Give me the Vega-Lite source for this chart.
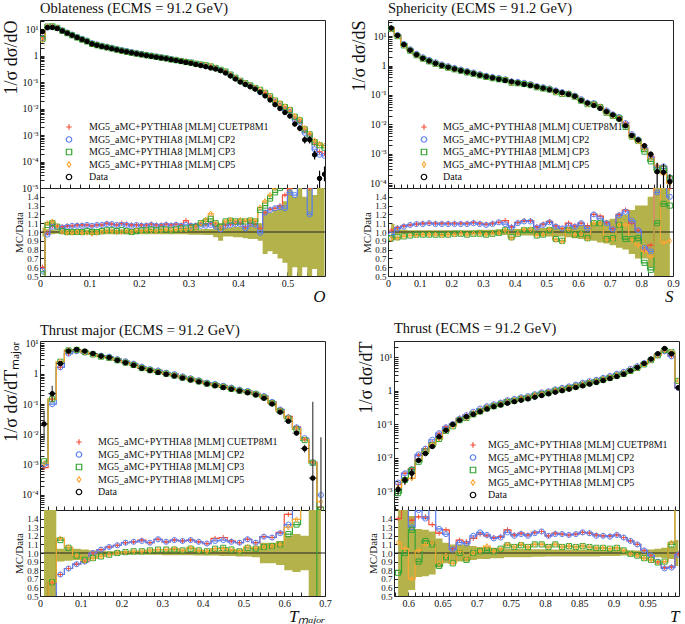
{
"padding":{"left":2,"top":0,"right":2,"bottom":0},
"datasets":{
"obl":[
{"x":0.005,"d":8,"a":4.8,"b":4.5,"c":4.2,"f":3.8,"ra":0.6,"rb":0.56,"rc":0.52,"rf":0.47,"lo":0.95,"hi":1.05},
{"x":0.015,"d":11.5,"a":11.4,"b":11.2,"c":12.4,"f":12.7,"ra":0.99,"rb":0.97,"rc":1.08,"rf":1.1,"lo":0.97,"hi":1.03},
{"x":0.025,"d":11.5,"a":12.3,"b":12.2,"c":12.7,"f":12.9,"ra":1.07,"rb":1.06,"rc":1.1,"rf":1.12,"lo":0.975,"hi":1.025},
{"x":0.035,"d":10.5,"a":11.1,"b":11.1,"c":11.1,"f":11.2,"ra":1.06,"rb":1.06,"rc":1.06,"rf":1.07,"lo":0.98,"hi":1.02},
{"x":0.045,"d":8.5,"a":9.0,"b":8.9,"c":8.6,"f":8.5,"ra":1.06,"rb":1.05,"rc":1.01,"rf":1.0,"lo":0.98,"hi":1.02},
{"x":0.055,"d":7.0,"a":7.5,"b":7.4,"c":7.0,"f":6.9,"ra":1.07,"rb":1.06,"rc":1.0,"rf":0.99,"lo":0.975,"hi":1.025},
{"x":0.065,"d":5.8,"a":6.2,"b":6.2,"c":5.8,"f":5.7,"ra":1.07,"rb":1.07,"rc":1.0,"rf":0.99,"lo":0.975,"hi":1.025},
{"x":0.075,"d":4.8,"a":5.2,"b":5.1,"c":4.8,"f":4.8,"ra":1.08,"rb":1.07,"rc":1.0,"rf":1.0,"lo":0.975,"hi":1.025},
{"x":0.085,"d":4.0,"a":4.3,"b":4.3,"c":4.0,"f":4.0,"ra":1.08,"rb":1.07,"rc":1.0,"rf":0.99,"lo":0.975,"hi":1.025},
{"x":0.095,"d":3.4,"a":3.7,"b":3.7,"c":3.4,"f":3.4,"ra":1.08,"rb":1.08,"rc":1.01,"rf":0.99,"lo":0.975,"hi":1.025},
{"x":0.105,"d":2.75,"a":2.94,"b":2.94,"c":2.75,"f":2.7,"ra":1.07,"rb":1.07,"rc":1.0,"rf":0.98,"lo":0.975,"hi":1.025},
{"x":0.115,"d":2.45,"a":2.65,"b":2.65,"c":2.45,"f":2.43,"ra":1.08,"rb":1.08,"rc":1.0,"rf":0.99,"lo":0.975,"hi":1.025},
{"x":0.125,"d":2.2,"a":2.38,"b":2.38,"c":2.22,"f":2.2,"ra":1.08,"rb":1.08,"rc":1.01,"rf":1.0,"lo":0.975,"hi":1.025},
{"x":0.135,"d":2.0,"a":2.2,"b":2.18,"c":2.04,"f":2.02,"ra":1.1,"rb":1.09,"rc":1.02,"rf":1.01,"lo":0.975,"hi":1.025},
{"x":0.145,"d":1.82,"a":1.98,"b":1.98,"c":1.86,"f":1.84,"ra":1.09,"rb":1.09,"rc":1.02,"rf":1.01,"lo":0.975,"hi":1.025},
{"x":0.155,"d":1.65,"a":1.78,"b":1.78,"c":1.67,"f":1.65,"ra":1.08,"rb":1.08,"rc":1.01,"rf":1.0,"lo":0.975,"hi":1.025},
{"x":0.165,"d":1.5,"a":1.65,"b":1.62,"c":1.53,"f":1.5,"ra":1.1,"rb":1.08,"rc":1.02,"rf":1.0,"lo":0.975,"hi":1.025},
{"x":0.175,"d":1.38,"a":1.5,"b":1.49,"c":1.39,"f":1.39,"ra":1.09,"rb":1.08,"rc":1.01,"rf":1.01,"lo":0.975,"hi":1.025},
{"x":0.185,"d":1.27,"a":1.37,"b":1.36,"c":1.27,"f":1.27,"ra":1.08,"rb":1.07,"rc":1.0,"rf":1.0,"lo":0.975,"hi":1.025},
{"x":0.195,"d":1.17,"a":1.26,"b":1.26,"c":1.18,"f":1.19,"ra":1.08,"rb":1.08,"rc":1.01,"rf":1.02,"lo":0.975,"hi":1.025},
{"x":0.205,"d":1.08,"a":1.17,"b":1.16,"c":1.1,"f":1.09,"ra":1.08,"rb":1.07,"rc":1.02,"rf":1.01,"lo":0.975,"hi":1.025},
{"x":0.215,"d":1.0,"a":1.08,"b":1.07,"c":1.02,"f":1.02,"ra":1.08,"rb":1.07,"rc":1.02,"rf":1.02,"lo":0.975,"hi":1.025},
{"x":0.225,"d":0.93,"a":1.01,"b":1.0,"c":0.96,"f":0.95,"ra":1.09,"rb":1.08,"rc":1.03,"rf":1.02,"lo":0.975,"hi":1.025},
{"x":0.235,"d":0.87,"a":0.94,"b":0.93,"c":0.89,"f":0.88,"ra":1.08,"rb":1.07,"rc":1.02,"rf":1.01,"lo":0.975,"hi":1.025},
{"x":0.245,"d":0.81,"a":0.87,"b":0.87,"c":0.83,"f":0.83,"ra":1.08,"rb":1.07,"rc":1.03,"rf":1.02,"lo":0.975,"hi":1.025},
{"x":0.255,"d":0.76,"a":0.83,"b":0.82,"c":0.78,"f":0.78,"ra":1.09,"rb":1.08,"rc":1.03,"rf":1.03,"lo":0.975,"hi":1.025},
{"x":0.265,"d":0.7,"a":0.76,"b":0.75,"c":0.71,"f":0.71,"ra":1.08,"rb":1.07,"rc":1.02,"rf":1.02,"lo":0.975,"hi":1.025},
{"x":0.275,"d":0.65,"a":0.71,"b":0.7,"c":0.67,"f":0.67,"ra":1.09,"rb":1.08,"rc":1.03,"rf":1.03,"lo":0.975,"hi":1.025},
{"x":0.285,"d":0.6,"a":0.65,"b":0.64,"c":0.62,"f":0.62,"ra":1.08,"rb":1.07,"rc":1.04,"rf":1.03,"lo":0.975,"hi":1.025},
{"x":0.295,"d":0.55,"a":0.62,"b":0.59,"c":0.57,"f":0.57,"ra":1.13,"rb":1.08,"rc":1.04,"rf":1.03,"lo":0.975,"hi":1.025},
{"x":0.305,"d":0.51,"a":0.55,"b":0.55,"c":0.54,"f":0.53,"ra":1.08,"rb":1.07,"rc":1.05,"rf":1.04,"lo":0.97,"hi":1.03},
{"x":0.315,"d":0.46,"a":0.5,"b":0.49,"c":0.49,"f":0.48,"ra":1.08,"rb":1.07,"rc":1.06,"rf":1.05,"lo":0.97,"hi":1.03},
{"x":0.325,"d":0.42,"a":0.46,"b":0.45,"c":0.46,"f":0.46,"ra":1.09,"rb":1.07,"rc":1.1,"rf":1.1,"lo":0.97,"hi":1.03},
{"x":0.335,"d":0.38,"a":0.41,"b":0.41,"c":0.43,"f":0.43,"ra":1.09,"rb":1.07,"rc":1.12,"rf":1.14,"lo":0.965,"hi":1.035},
{"x":0.345,"d":0.34,"a":0.37,"b":0.37,"c":0.39,"f":0.41,"ra":1.1,"rb":1.08,"rc":1.15,"rf":1.21,"lo":0.965,"hi":1.035},
{"x":0.355,"d":0.31,"a":0.33,"b":0.33,"c":0.34,"f":0.34,"ra":1.08,"rb":1.06,"rc":1.1,"rf":1.1,"lo":0.94,"hi":1.06},
{"x":0.365,"d":0.27,"a":0.28,"b":0.28,"c":0.29,"f":0.28,"ra":1.03,"rb":1.03,"rc":1.06,"rf":1.05,"lo":0.9,"hi":1.1},
{"x":0.375,"d":0.22,"a":0.24,"b":0.24,"c":0.25,"f":0.25,"ra":1.08,"rb":1.07,"rc":1.12,"rf":1.12,"lo":0.95,"hi":1.05},
{"x":0.385,"d":0.17,"a":0.185,"b":0.184,"c":0.192,"f":0.194,"ra":1.09,"rb":1.08,"rc":1.13,"rf":1.14,"lo":0.95,"hi":1.05},
{"x":0.395,"d":0.13,"a":0.143,"b":0.142,"c":0.146,"f":0.146,"ra":1.1,"rb":1.09,"rc":1.12,"rf":1.12,"lo":0.94,"hi":1.06},
{"x":0.405,"d":0.1,"a":0.11,"b":0.109,"c":0.112,"f":0.114,"ra":1.1,"rb":1.09,"rc":1.12,"rf":1.14,"lo":0.94,"hi":1.06},
{"x":0.415,"d":0.081,"a":0.086,"b":0.084,"c":0.091,"f":0.092,"ra":1.06,"rb":1.04,"rc":1.12,"rf":1.13,"lo":0.93,"hi":1.07},
{"x":0.425,"d":0.066,"a":0.073,"b":0.072,"c":0.075,"f":0.075,"ra":1.1,"rb":1.09,"rc":1.13,"rf":1.14,"lo":0.92,"hi":1.08},
{"x":0.435,"d":0.054,"a":0.059,"b":0.058,"c":0.06,"f":0.061,"ra":1.09,"rb":1.08,"rc":1.12,"rf":1.13,"lo":0.92,"hi":1.08},
{"x":0.445,"d":0.041,"a":0.043,"b":0.041,"c":0.051,"f":0.052,"ra":1.04,"rb":0.99,"rc":1.25,"rf":1.28,"lo":0.9,"hi":1.1},
{"x":0.455,"d":0.03,"a":0.037,"b":0.037,"c":0.039,"f":0.041,"ra":1.22,"rb":1.22,"rc":1.3,"rf":1.35,"lo":0.75,"hi":1.25},
{"x":0.465,"d":0.021,"a":0.026,"b":0.026,"c":0.029,"f":0.03,"ra":1.26,"rb":1.25,"rc":1.38,"rf":1.42,"lo":0.78,"hi":1.22},
{"x":0.475,"d":0.014,"a":0.018,"b":0.018,"c":0.02,"f":0.021,"ra":1.27,"rb":1.27,"rc":1.45,"rf":1.5,"lo":0.75,"hi":1.25},
{"x":0.485,"d":0.01,"a":0.013,"b":0.0128,"c":0.015,"f":0.016,"ra":1.3,"rb":1.28,"rc":1.5,"rf":1.6,"lo":0.7,"hi":1.3},
{"x":0.495,"d":0.0071,"a":0.0101,"b":0.009,"c":0.0114,"f":0.0121,"ra":1.42,"rb":1.27,"rc":1.6,"rf":1.7,"lo":0.65,"hi":1.35,"el":0.0062,"eh":0.008},
{"x":0.505,"d":0.0052,"a":0.0078,"b":0.0075,"c":0.0088,"f":0.0094,"ra":1.5,"rb":1.45,"rc":1.7,"rf":1.8,"lo":0.5,"hi":1.5,"el":0.0045,"eh":0.006},
{"x":0.515,"d":0.0026,"a":0.0042,"b":0.0037,"c":0.0049,"f":0.0052,"ra":1.6,"rb":1.42,"rc":1.9,"rf":2.0,"lo":0.6,"hi":1.4,"el":0.0021,"eh":0.0032},
{"x":0.525,"d":0.0018,"a":0.0032,"b":0.0029,"c":0.0036,"f":0.004,"ra":1.8,"rb":1.6,"rc":2.0,"rf":2.2,"lo":0.5,"hi":1.5,"el":0.0014,"eh":0.0023},
{"x":0.535,"d":0.00066,"a":0.00145,"b":0.0012,"c":0.00165,"f":0.00185,"ra":2.2,"rb":1.8,"rc":2.5,"rf":2.8,"lo":0.6,"hi":1.4,"el":0.00048,"eh":0.0009},
{"x":0.545,"d":0.00066,"a":0.001,"b":0.0008,"c":0.00106,"f":0.00112,"ra":1.5,"rb":1.2,"rc":1.6,"rf":1.7,"lo":0.5,"hi":1.5,"el":0.00048,"eh":0.0009},
{"x":0.555,"d":0.00018,"a":0.00045,"b":0.00029,"c":0.00054,"f":0.00063,"ra":2.5,"rb":1.6,"rc":3.0,"rf":3.5,"lo":0.58,"hi":1.42,"el":0.00012,"eh":0.00026},
{"x":0.565,"d":0.000023,"a":0.00023,"b":0.00018,"c":0.00041,"f":0.00046,"ra":10,"rb":8,"rc":18,"rf":20,"lo":0.4,"hi":1.6,"el":0.00001,"eh":0.000045},
{"x":0.575,"d":0.000033,"a":0.0002,"b":0.000165,"c":0.00033,"f":0.0004,"ra":6,"rb":5,"rc":10,"rf":12,"lo":0.4,"hi":1.6,"el":0.000018,"eh":0.000065}
],
"sph":[
{"x":0.01,"d":18.6,"a":19,"b":18,"c":17.3,"f":17.1,"ra":1.02,"rb":0.97,"rc":0.93,"rf":0.92,"lo":0.91,"hi":1.09},
{"x":0.03,"d":10.5,"a":11,"b":10.9,"c":9.9,"f":9.8,"ra":1.05,"rb":1.04,"rc":0.94,"rf":0.93,"lo":0.97,"hi":1.03},
{"x":0.05,"d":5.1,"a":5.5,"b":5.4,"c":4.8,"f":4.8,"ra":1.07,"rb":1.06,"rc":0.95,"rf":0.95,"lo":0.975,"hi":1.025},
{"x":0.07,"d":3.3,"a":3.56,"b":3.56,"c":3.17,"f":3.17,"ra":1.08,"rb":1.08,"rc":0.96,"rf":0.96,"lo":0.98,"hi":1.02},
{"x":0.09,"d":2.3,"a":2.5,"b":2.5,"c":2.23,"f":2.2,"ra":1.09,"rb":1.09,"rc":0.97,"rf":0.96,"lo":0.98,"hi":1.02},
{"x":0.11,"d":1.75,"a":1.93,"b":1.91,"c":1.7,"f":1.7,"ra":1.1,"rb":1.09,"rc":0.97,"rf":0.97,"lo":0.98,"hi":1.02},
{"x":0.13,"d":1.42,"a":1.56,"b":1.56,"c":1.38,"f":1.38,"ra":1.1,"rb":1.1,"rc":0.97,"rf":0.97,"lo":0.98,"hi":1.02},
{"x":0.15,"d":1.18,"a":1.3,"b":1.29,"c":1.14,"f":1.14,"ra":1.1,"rb":1.09,"rc":0.97,"rf":0.97,"lo":0.98,"hi":1.02},
{"x":0.17,"d":1.0,"a":1.1,"b":1.09,"c":0.97,"f":0.96,"ra":1.1,"rb":1.09,"rc":0.97,"rf":0.96,"lo":0.98,"hi":1.02},
{"x":0.19,"d":0.87,"a":0.96,"b":0.95,"c":0.84,"f":0.84,"ra":1.1,"rb":1.09,"rc":0.97,"rf":0.97,"lo":0.98,"hi":1.02},
{"x":0.21,"d":0.76,"a":0.84,"b":0.83,"c":0.74,"f":0.74,"ra":1.1,"rb":1.09,"rc":0.98,"rf":0.97,"lo":0.98,"hi":1.02},
{"x":0.23,"d":0.67,"a":0.74,"b":0.73,"c":0.66,"f":0.66,"ra":1.1,"rb":1.09,"rc":0.98,"rf":0.98,"lo":0.98,"hi":1.02},
{"x":0.25,"d":0.6,"a":0.66,"b":0.65,"c":0.58,"f":0.58,"ra":1.1,"rb":1.09,"rc":0.97,"rf":0.97,"lo":0.98,"hi":1.02},
{"x":0.27,"d":0.53,"a":0.59,"b":0.58,"c":0.52,"f":0.52,"ra":1.11,"rb":1.1,"rc":0.98,"rf":0.98,"lo":0.98,"hi":1.02},
{"x":0.29,"d":0.47,"a":0.52,"b":0.51,"c":0.46,"f":0.46,"ra":1.1,"rb":1.09,"rc":0.98,"rf":0.98,"lo":0.975,"hi":1.025},
{"x":0.31,"d":0.42,"a":0.46,"b":0.45,"c":0.41,"f":0.41,"ra":1.09,"rb":1.08,"rc":0.97,"rf":0.97,"lo":0.975,"hi":1.025},
{"x":0.33,"d":0.38,"a":0.42,"b":0.41,"c":0.37,"f":0.37,"ra":1.1,"rb":1.09,"rc":0.98,"rf":0.98,"lo":0.975,"hi":1.025},
{"x":0.35,"d":0.34,"a":0.38,"b":0.38,"c":0.34,"f":0.34,"ra":1.11,"rb":1.11,"rc":0.99,"rf":0.99,"lo":0.97,"hi":1.03},
{"x":0.37,"d":0.31,"a":0.35,"b":0.34,"c":0.32,"f":0.32,"ra":1.13,"rb":1.09,"rc":1.02,"rf":1.02,"lo":0.965,"hi":1.035},
{"x":0.39,"d":0.28,"a":0.3,"b":0.29,"c":0.26,"f":0.26,"ra":1.06,"rb":1.05,"rc":0.94,"rf":0.93,"lo":0.965,"hi":1.035},
{"x":0.41,"d":0.255,"a":0.28,"b":0.28,"c":0.25,"f":0.25,"ra":1.11,"rb":1.1,"rc":0.98,"rf":0.98,"lo":0.965,"hi":1.035},
{"x":0.43,"d":0.23,"a":0.26,"b":0.26,"c":0.235,"f":0.237,"ra":1.13,"rb":1.12,"rc":1.02,"rf":1.03,"lo":0.96,"hi":1.04},
{"x":0.45,"d":0.21,"a":0.237,"b":0.235,"c":0.214,"f":0.216,"ra":1.13,"rb":1.12,"rc":1.02,"rf":1.03,"lo":0.96,"hi":1.04},
{"x":0.47,"d":0.19,"a":0.2,"b":0.2,"c":0.182,"f":0.182,"ra":1.06,"rb":1.05,"rc":0.96,"rf":0.96,"lo":0.96,"hi":1.04},
{"x":0.49,"d":0.17,"a":0.185,"b":0.184,"c":0.165,"f":0.165,"ra":1.09,"rb":1.08,"rc":0.97,"rf":0.97,"lo":0.955,"hi":1.045},
{"x":0.51,"d":0.15,"a":0.168,"b":0.167,"c":0.153,"f":0.155,"ra":1.12,"rb":1.11,"rc":1.02,"rf":1.03,"lo":0.95,"hi":1.05},
{"x":0.53,"d":0.135,"a":0.144,"b":0.143,"c":0.124,"f":0.123,"ra":1.07,"rb":1.06,"rc":0.92,"rf":0.91,"lo":0.95,"hi":1.05},
{"x":0.55,"d":0.12,"a":0.125,"b":0.125,"c":0.108,"f":0.107,"ra":1.04,"rb":1.04,"rc":0.9,"rf":0.89,"lo":0.95,"hi":1.05},
{"x":0.57,"d":0.105,"a":0.116,"b":0.112,"c":0.107,"f":0.108,"ra":1.1,"rb":1.07,"rc":1.02,"rf":1.03,"lo":0.94,"hi":1.06},
{"x":0.59,"d":0.09,"a":0.096,"b":0.095,"c":0.087,"f":0.087,"ra":1.07,"rb":1.06,"rc":0.97,"rf":0.97,"lo":0.93,"hi":1.07},
{"x":0.61,"d":0.065,"a":0.072,"b":0.072,"c":0.064,"f":0.064,"ra":1.1,"rb":1.1,"rc":0.98,"rf":0.98,"lo":0.92,"hi":1.08},
{"x":0.63,"d":0.053,"a":0.057,"b":0.055,"c":0.049,"f":0.049,"ra":1.07,"rb":1.04,"rc":0.93,"rf":0.92,"lo":0.92,"hi":1.08},
{"x":0.65,"d":0.044,"a":0.053,"b":0.053,"c":0.048,"f":0.048,"ra":1.2,"rb":1.2,"rc":1.1,"rf":1.1,"lo":0.9,"hi":1.1},
{"x":0.67,"d":0.035,"a":0.041,"b":0.04,"c":0.039,"f":0.039,"ra":1.18,"rb":1.15,"rc":1.1,"rf":1.1,"lo":0.88,"hi":1.12},
{"x":0.69,"d":0.027,"a":0.03,"b":0.03,"c":0.025,"f":0.025,"ra":1.11,"rb":1.1,"rc":0.92,"rf":0.91,"lo":0.87,"hi":1.13},
{"x":0.71,"d":0.021,"a":0.022,"b":0.022,"c":0.0195,"f":0.0193,"ra":1.04,"rb":1.03,"rc":0.93,"rf":0.92,"lo":0.85,"hi":1.15},
{"x":0.73,"d":0.015,"a":0.018,"b":0.0179,"c":0.0162,"f":0.0162,"ra":1.2,"rb":1.19,"rc":1.08,"rf":1.08,"lo":0.82,"hi":1.18},
{"x":0.75,"d":0.009,"a":0.0113,"b":0.0111,"c":0.0083,"f":0.0097,"ra":1.25,"rb":1.23,"rc":0.92,"rf":1.08,"lo":0.8,"hi":1.2},
{"x":0.77,"d":0.0042,"a":0.0046,"b":0.0047,"c":0.0039,"f":0.0038,"ra":1.1,"rb":1.13,"rc":0.92,"rf":0.91,"lo":0.75,"hi":1.25,"el":0.0036,"eh":0.0048},
{"x":0.79,"d":0.003,"a":0.0031,"b":0.0031,"c":0.0028,"f":0.0026,"ra":1.02,"rb":1.02,"rc":0.93,"rf":0.85,"lo":0.7,"hi":1.3,"el":0.0025,"eh":0.0035},
{"x":0.81,"d":0.0019,"a":0.0015,"b":0.0016,"c":0.0012,"f":0.0015,"ra":0.8,"rb":0.82,"rc":0.65,"rf":0.78,"lo":0.7,"hi":1.3,"el":0.0015,"eh":0.0023},
{"x":0.83,"d":0.00098,"a":0.00083,"b":0.00076,"c":0.00056,"f":0.00071,"ra":0.85,"rb":0.78,"rc":0.57,"rf":0.72,"lo":0.6,"hi":1.4,"el":0.00075,"eh":0.0012},
{"x":0.85,"d":0.00025,"a":0.0004,"b":0.00036,"c":0.00028,"f":0.0004,"ra":1.6,"rb":1.45,"rc":1.1,"rf":1.6,"lo":0.4,"hi":1.6,"el":0.00007,"eh":0.0005},
{"x":0.87,"d":0.00024,"a":0.00038,"b":0.00038,"c":0.00032,"f":0.00021,"ra":1.6,"rb":1.6,"rc":1.32,"rf":0.88,"lo":0.4,"hi":1.6,"el":0.00007,"eh":0.00045},
{"x":0.89,"d":0.000115,"a":0.00017,"b":0.00016,"c":0.00015,"f":0.0001,"ra":1.5,"rb":1.4,"rc":1.3,"rf":0.9,"lo":0.4,"hi":1.6,"el":0.00007,"eh":0.0002}
],
"tmaj":[
{"x":0.01,"d":0.022,"a":0.0008,"b":0.001,"c":0.0013,"f":0.0011,"ra":0.036,"rb":0.045,"rc":0.06,"rf":0.05,"lo":0.4,"hi":1.6,"el":0.0063,"eh":0.06},
{"x":0.03,"d":0.22,"a":0.143,"b":0.099,"c":0.145,"f":0.145,"ra":0.65,"rb":0.45,"rc":0.66,"rf":0.66,"lo":0.4,"hi":1.6,"el":0.115,"eh":0.4},
{"x":0.05,"d":2.16,"a":1.62,"b":1.62,"c":2.48,"f":2.53,"ra":0.75,"rb":0.75,"rc":1.15,"rf":1.17,"lo":0.9,"hi":1.05},
{"x":0.07,"d":5.6,"a":4.6,"b":4.6,"c":5.9,"f":6.0,"ra":0.82,"rb":0.82,"rc":1.06,"rf":1.07,"lo":0.91,"hi":1.05},
{"x":0.09,"d":6.3,"a":5.5,"b":5.5,"c":6.1,"f":6.1,"ra":0.87,"rb":0.87,"rc":0.97,"rf":0.97,"lo":0.92,"hi":1.05},
{"x":0.11,"d":5.6,"a":5.0,"b":5.0,"c":5.15,"f":5.1,"ra":0.9,"rb":0.9,"rc":0.92,"rf":0.91,"lo":0.93,"hi":1.04},
{"x":0.13,"d":4.6,"a":4.6,"b":4.6,"c":4.32,"f":4.32,"ra":1.0,"rb":1.0,"rc":0.94,"rf":0.94,"lo":0.96,"hi":1.03},
{"x":0.15,"d":3.8,"a":3.95,"b":3.95,"c":3.65,"f":3.65,"ra":1.04,"rb":1.04,"rc":0.96,"rf":0.96,"lo":0.975,"hi":1.025},
{"x":0.17,"d":3.4,"a":3.64,"b":3.64,"c":3.33,"f":3.33,"ra":1.07,"rb":1.07,"rc":0.98,"rf":0.98,"lo":0.98,"hi":1.02},
{"x":0.19,"d":2.77,"a":3.02,"b":3.02,"c":2.77,"f":2.77,"ra":1.09,"rb":1.09,"rc":1.0,"rf":1.0,"lo":0.98,"hi":1.02},
{"x":0.21,"d":2.3,"a":2.58,"b":2.58,"c":2.32,"f":2.32,"ra":1.12,"rb":1.12,"rc":1.01,"rf":1.01,"lo":0.98,"hi":1.02},
{"x":0.23,"d":1.9,"a":2.15,"b":2.15,"c":1.94,"f":1.94,"ra":1.13,"rb":1.13,"rc":1.02,"rf":1.02,"lo":0.98,"hi":1.02},
{"x":0.25,"d":1.5,"a":1.73,"b":1.71,"c":1.53,"f":1.53,"ra":1.15,"rb":1.14,"rc":1.02,"rf":1.02,"lo":0.98,"hi":1.02},
{"x":0.27,"d":1.27,"a":1.42,"b":1.42,"c":1.31,"f":1.31,"ra":1.12,"rb":1.12,"rc":1.03,"rf":1.03,"lo":0.98,"hi":1.02},
{"x":0.29,"d":1.1,"a":1.28,"b":1.28,"c":1.14,"f":1.14,"ra":1.16,"rb":1.16,"rc":1.04,"rf":1.04,"lo":0.98,"hi":1.02},
{"x":0.31,"d":0.96,"a":1.08,"b":1.08,"c":1.0,"f":1.0,"ra":1.13,"rb":1.13,"rc":1.04,"rf":1.04,"lo":0.975,"hi":1.025},
{"x":0.33,"d":0.84,"a":0.97,"b":0.97,"c":0.87,"f":0.88,"ra":1.15,"rb":1.15,"rc":1.04,"rf":1.05,"lo":0.975,"hi":1.025},
{"x":0.35,"d":0.72,"a":0.82,"b":0.82,"c":0.74,"f":0.74,"ra":1.14,"rb":1.14,"rc":1.03,"rf":1.03,"lo":0.975,"hi":1.025},
{"x":0.37,"d":0.62,"a":0.71,"b":0.71,"c":0.65,"f":0.66,"ra":1.15,"rb":1.15,"rc":1.05,"rf":1.06,"lo":0.975,"hi":1.025},
{"x":0.39,"d":0.54,"a":0.61,"b":0.61,"c":0.56,"f":0.56,"ra":1.13,"rb":1.13,"rc":1.03,"rf":1.03,"lo":0.97,"hi":1.03},
{"x":0.41,"d":0.46,"a":0.51,"b":0.51,"c":0.47,"f":0.47,"ra":1.11,"rb":1.11,"rc":1.02,"rf":1.02,"lo":0.97,"hi":1.03},
{"x":0.43,"d":0.4,"a":0.47,"b":0.46,"c":0.42,"f":0.42,"ra":1.17,"rb":1.14,"rc":1.05,"rf":1.05,"lo":0.97,"hi":1.03},
{"x":0.45,"d":0.35,"a":0.41,"b":0.4,"c":0.37,"f":0.37,"ra":1.18,"rb":1.15,"rc":1.06,"rf":1.05,"lo":0.965,"hi":1.035},
{"x":0.47,"d":0.31,"a":0.35,"b":0.35,"c":0.32,"f":0.32,"ra":1.14,"rb":1.13,"rc":1.04,"rf":1.04,"lo":0.965,"hi":1.035},
{"x":0.49,"d":0.27,"a":0.3,"b":0.3,"c":0.275,"f":0.275,"ra":1.12,"rb":1.12,"rc":1.02,"rf":1.02,"lo":0.96,"hi":1.04},
{"x":0.51,"d":0.235,"a":0.27,"b":0.27,"c":0.25,"f":0.25,"ra":1.16,"rb":1.16,"rc":1.06,"rf":1.07,"lo":0.96,"hi":1.04},
{"x":0.53,"d":0.2,"a":0.224,"b":0.224,"c":0.21,"f":0.212,"ra":1.12,"rb":1.12,"rc":1.05,"rf":1.06,"lo":0.95,"hi":1.05},
{"x":0.55,"d":0.155,"a":0.184,"b":0.184,"c":0.166,"f":0.166,"ra":1.19,"rb":1.19,"rc":1.07,"rf":1.07,"lo":0.88,"hi":1.12},
{"x":0.57,"d":0.1,"a":0.118,"b":0.118,"c":0.108,"f":0.108,"ra":1.18,"rb":1.18,"rc":1.08,"rf":1.08,"lo":0.88,"hi":1.12},
{"x":0.59,"d":0.054,"a":0.067,"b":0.066,"c":0.059,"f":0.059,"ra":1.24,"rb":1.23,"rc":1.1,"rf":1.1,"lo":0.86,"hi":1.14},
{"x":0.61,"d":0.027,"a":0.039,"b":0.036,"c":0.033,"f":0.035,"ra":1.45,"rb":1.33,"rc":1.22,"rf":1.3,"lo":0.8,"hi":1.2},
{"x":0.63,"d":0.011,"a":0.0176,"b":0.017,"c":0.0146,"f":0.0153,"ra":1.6,"rb":1.55,"rc":1.33,"rf":1.39,"lo":0.78,"hi":1.22,"el":0.009,"eh":0.013},
{"x":0.65,"d":0.0034,"a":0.0068,"b":0.0075,"c":0.0065,"f":0.0068,"ra":2.0,"rb":2.2,"rc":1.9,"rf":2.0,"lo":0.8,"hi":1.2,"el":0.0025,"eh":0.0045},
{"x":0.67,"d":0.00036,"a":0.0012,"b":0.0012,"c":0.00115,"f":0.0012,"ra":3.3,"rb":3.3,"rc":3.2,"rf":3.3,"lo":0.4,"hi":1.6,"el":0.00003,"eh":0.12},
{"x":0.69,"a":0.00004,"b":0.0001,"c":0.000033,"f":0.00006,"ra":3,"rb":3,"rc":0.3,"rf":3,"lo":0.4,"hi":1.6,"el":0.00003,"eh":0.008}
],
"thr":[
{"x":0.585,"d":0.00115,"a":0.0016,"b":0.00185,"c":0.00089,"f":0.0013,"ra":1.4,"rb":1.6,"rc":0.77,"rf":1.12,"lo":0.4,"hi":1.6,"el":0.0008,"eh":0.0015},
{"x":0.595,"d":0.0022,"a":0.0035,"b":0.0035,"c":0.0022,"f":0.0023,"ra":1.6,"rb":1.6,"rc":1.0,"rf":1.05,"lo":0.4,"hi":1.6,"el":0.0016,"eh":0.0028},
{"x":0.605,"d":0.0035,"a":0.0048,"b":0.0046,"c":0.0044,"f":0.00245,"ra":1.38,"rb":1.3,"rc":1.27,"rf":0.7,"lo":0.57,"hi":1.43,"el":0.0023,"eh":0.0047},
{"x":0.615,"d":0.0085,"a":0.012,"b":0.0128,"c":0.0077,"f":0.0088,"ra":1.42,"rb":1.5,"rc":0.9,"rf":1.03,"lo":0.72,"hi":1.28,"el":0.007,"eh":0.01},
{"x":0.625,"d":0.0135,"a":0.019,"b":0.019,"c":0.0154,"f":0.0149,"ra":1.42,"rb":1.4,"rc":1.14,"rf":1.1,"lo":0.73,"hi":1.27},
{"x":0.635,"d":0.022,"a":0.029,"b":0.035,"c":0.024,"f":0.025,"ra":1.33,"rb":1.6,"rc":1.1,"rf":1.12,"lo":0.75,"hi":1.25},
{"x":0.645,"d":0.043,"a":0.053,"b":0.055,"c":0.037,"f":0.038,"ra":1.23,"rb":1.28,"rc":0.85,"rf":0.88,"lo":0.83,"hi":1.17},
{"x":0.655,"d":0.067,"a":0.085,"b":0.082,"c":0.064,"f":0.065,"ra":1.27,"rb":1.22,"rc":0.95,"rf":0.97,"lo":0.88,"hi":1.12},
{"x":0.665,"d":0.1,"a":0.105,"b":0.104,"c":0.088,"f":0.088,"ra":1.05,"rb":1.04,"rc":0.88,"rf":0.88,"lo":0.9,"hi":1.1},
{"x":0.675,"d":0.134,"a":0.154,"b":0.15,"c":0.134,"f":0.137,"ra":1.15,"rb":1.12,"rc":1.0,"rf":1.02,"lo":0.9,"hi":1.1},
{"x":0.685,"d":0.17,"a":0.192,"b":0.189,"c":0.156,"f":0.158,"ra":1.13,"rb":1.11,"rc":0.92,"rf":0.93,"lo":0.9,"hi":1.1},
{"x":0.695,"d":0.2,"a":0.234,"b":0.24,"c":0.2,"f":0.2,"ra":1.17,"rb":1.2,"rc":1.0,"rf":1.0,"lo":0.92,"hi":1.08},
{"x":0.705,"d":0.24,"a":0.29,"b":0.3,"c":0.245,"f":0.245,"ra":1.22,"rb":1.24,"rc":1.02,"rf":1.02,"lo":0.93,"hi":1.07},
{"x":0.715,"d":0.29,"a":0.35,"b":0.35,"c":0.3,"f":0.31,"ra":1.2,"rb":1.21,"rc":1.03,"rf":1.08,"lo":0.93,"hi":1.07},
{"x":0.725,"d":0.34,"a":0.4,"b":0.4,"c":0.35,"f":0.35,"ra":1.18,"rb":1.17,"rc":1.02,"rf":1.02,"lo":0.94,"hi":1.06},
{"x":0.735,"d":0.38,"a":0.45,"b":0.45,"c":0.4,"f":0.4,"ra":1.19,"rb":1.18,"rc":1.05,"rf":1.05,"lo":0.94,"hi":1.06},
{"x":0.745,"d":0.43,"a":0.55,"b":0.53,"c":0.47,"f":0.47,"ra":1.27,"rb":1.24,"rc":1.09,"rf":1.1,"lo":0.95,"hi":1.05},
{"x":0.755,"d":0.48,"a":0.58,"b":0.58,"c":0.51,"f":0.51,"ra":1.21,"rb":1.2,"rc":1.07,"rf":1.07,"lo":0.95,"hi":1.05},
{"x":0.765,"d":0.53,"a":0.65,"b":0.65,"c":0.58,"f":0.58,"ra":1.23,"rb":1.22,"rc":1.09,"rf":1.1,"lo":0.95,"hi":1.05},
{"x":0.775,"d":0.58,"a":0.7,"b":0.7,"c":0.62,"f":0.62,"ra":1.21,"rb":1.2,"rc":1.07,"rf":1.07,"lo":0.95,"hi":1.05},
{"x":0.785,"d":0.65,"a":0.81,"b":0.8,"c":0.72,"f":0.72,"ra":1.24,"rb":1.23,"rc":1.1,"rf":1.1,"lo":0.955,"hi":1.045},
{"x":0.795,"d":0.73,"a":0.91,"b":0.91,"c":0.8,"f":0.8,"ra":1.25,"rb":1.25,"rc":1.1,"rf":1.1,"lo":0.955,"hi":1.045},
{"x":0.805,"d":0.82,"a":0.98,"b":0.98,"c":0.88,"f":0.88,"ra":1.2,"rb":1.2,"rc":1.07,"rf":1.07,"lo":0.96,"hi":1.04},
{"x":0.815,"d":0.92,"a":1.13,"b":1.12,"c":1.01,"f":1.01,"ra":1.23,"rb":1.22,"rc":1.1,"rf":1.1,"lo":0.96,"hi":1.04},
{"x":0.825,"d":1.02,"a":1.24,"b":1.24,"c":1.09,"f":1.09,"ra":1.22,"rb":1.22,"rc":1.07,"rf":1.07,"lo":0.96,"hi":1.04},
{"x":0.835,"d":1.13,"a":1.37,"b":1.37,"c":1.22,"f":1.22,"ra":1.21,"rb":1.21,"rc":1.08,"rf":1.08,"lo":0.96,"hi":1.04},
{"x":0.845,"d":1.27,"a":1.55,"b":1.55,"c":1.36,"f":1.36,"ra":1.22,"rb":1.22,"rc":1.07,"rf":1.07,"lo":0.96,"hi":1.04},
{"x":0.855,"d":1.42,"a":1.76,"b":1.76,"c":1.53,"f":1.53,"ra":1.24,"rb":1.24,"rc":1.08,"rf":1.08,"lo":0.96,"hi":1.04},
{"x":0.865,"d":1.6,"a":1.97,"b":1.97,"c":1.71,"f":1.71,"ra":1.23,"rb":1.23,"rc":1.07,"rf":1.07,"lo":0.96,"hi":1.04},
{"x":0.875,"d":1.8,"a":2.18,"b":2.16,"c":1.91,"f":1.91,"ra":1.21,"rb":1.2,"rc":1.06,"rf":1.06,"lo":0.96,"hi":1.04},
{"x":0.885,"d":2.05,"a":2.46,"b":2.46,"c":2.17,"f":2.17,"ra":1.2,"rb":1.2,"rc":1.06,"rf":1.06,"lo":0.965,"hi":1.035},
{"x":0.895,"d":2.35,"a":2.82,"b":2.8,"c":2.47,"f":2.47,"ra":1.2,"rb":1.19,"rc":1.05,"rf":1.05,"lo":0.965,"hi":1.035},
{"x":0.905,"d":2.7,"a":3.27,"b":3.27,"c":2.86,"f":2.86,"ra":1.21,"rb":1.21,"rc":1.06,"rf":1.06,"lo":0.965,"hi":1.035},
{"x":0.915,"d":3.15,"a":3.72,"b":3.72,"c":3.24,"f":3.24,"ra":1.18,"rb":1.18,"rc":1.03,"rf":1.03,"lo":0.97,"hi":1.03},
{"x":0.925,"d":4.0,"a":4.56,"b":4.56,"c":3.96,"f":3.96,"ra":1.14,"rb":1.14,"rc":0.99,"rf":0.99,"lo":0.97,"hi":1.03},
{"x":0.935,"d":5.0,"a":5.5,"b":5.5,"c":4.85,"f":4.85,"ra":1.1,"rb":1.1,"rc":0.97,"rf":0.97,"lo":0.97,"hi":1.03},
{"x":0.945,"d":6.6,"a":6.8,"b":6.8,"c":6.2,"f":6.2,"ra":1.03,"rb":1.03,"rc":0.94,"rf":0.94,"lo":0.97,"hi":1.03},
{"x":0.955,"d":9.0,"a":8.7,"b":8.7,"c":8.3,"f":8.3,"ra":0.97,"rb":0.97,"rc":0.92,"rf":0.92,"lo":0.96,"hi":1.04},
{"x":0.965,"d":13,"a":11.7,"b":11.7,"c":11.6,"f":11.6,"ra":0.9,"rb":0.9,"rc":0.89,"rf":0.89,"lo":0.95,"hi":1.05},
{"x":0.975,"d":18.5,"a":15.4,"b":15.2,"c":16.7,"f":16.7,"ra":0.83,"rb":0.82,"rc":0.9,"rf":0.9,"lo":0.94,"hi":1.06},
{"x":0.985,"d":13,"a":10.9,"b":10.8,"c":14.3,"f":14.6,"ra":0.84,"rb":0.83,"rc":1.1,"rf":1.12,"lo":0.93,"hi":1.07},
{"x":0.995,"d":1.25,"a":1.24,"b":1.23,"c":2.0,"f":2.0,"ra":0.99,"rb":0.98,"rc":1.6,"rf":1.6,"lo":0.85,"hi":1.15}
]
},
"vconcat":[
{"hconcat":[
{"vconcat":[
{"width":285,"height":168,"title":{"text":"Oblateness (ECMS = 91.2 GeV)","anchor":"start","frame":"group","fontSize":14.5,"offset":0},"data":{"name":"obl"},
"layer":[
{"transform":[{"fold":["a","b","c","f"],"as":["s","v"]}],"mark":{"type":"line","interpolate":"step","strokeWidth":1.2,"clip":true},
"encoding":{"x":{"field":"x","type":"quantitative","scale":{"domain":[0,0.576],"nice":false,"zero":false},"axis":{"values":[0,0.02,0.04,0.06,0.08,0.1,0.12,0.14,0.16,0.18,0.2,0.22,0.24,0.26,0.28,0.3,0.32,0.34,0.36,0.38,0.4,0.42,0.44,0.46,0.48,0.5,0.52,0.54,0.56],"tickCount":200,"labels":false,"title":null}},
"y":{"field":"v","type":"quantitative","title":"1/σ dσ/dO","scale":{"type":"log","domain":[0.00001,22],"nice":false},"axis":{"values":[0.00001,0.00002,0.00003,0.00004,0.00005,0.00006,0.00007,0.00008,0.00009,0.0001,0.0002,0.0003,0.0004,0.0005,0.0006,0.0007,0.0008,0.0009,0.001,0.002,0.003,0.004,0.005,0.006,0.007,0.008,0.009,0.01,0.02,0.03,0.04,0.05,0.06,0.07,0.08,0.09,0.1,0.2,0.3,0.4,0.5,0.6,0.7,0.8,0.9,1,2,3,4,5,6,7,8,9,10,20],"tickCount":200,"labelExpr":"abs(log(datum.value)/LN10-round(log(datum.value)/LN10))>0.01?'':['10⁻⁵','10⁻⁴','10⁻³','10⁻²','10⁻¹','1','10¹'][round(log(datum.value)/LN10)+5]","titleAnchor":"end","titleFontSize":18,"titlePadding":1}},
"color":{"field":"s","type":"nominal","scale":{"domain":["a","b","c","f","d"],"range":["#f4503c","#5a7ef0","#35a535","#fca532","#000000"]},"legend":{"orient":"none","legendX":24,"legendY":102,"title":null,"labelFontSize":10,"labelLimit":400,"labelOffset":15,"rowPadding":0.5,"symbolSize":30,"symbolStrokeWidth":1.2,"labelExpr":"datum.value=='d'?'Data':'MG5_aMC+PYTHIA8 [MLM] '+(datum.value=='a'?'CUETP8M1':datum.value=='b'?'CP2':datum.value=='c'?'CP3':'CP5')"}}}},
{"transform":[{"fold":["a","b","c","f"],"as":["s","v"]}],"mark":{"type":"point","filled":false,"size":26,"strokeWidth":1,"opacity":1,"clip":true},
"encoding":{"x":{"field":"x","type":"quantitative"},"y":{"field":"v","type":"quantitative","title":"1/σ dσ/dO"},
"color":{"field":"s","type":"nominal"},
"shape":{"field":"s","type":"nominal","scale":{"domain":["a","b","c","f","d"],"range":["M-1,0L1,0M0,-1L0,1","circle","square","M0,-1L0.65,0L0,1L-0.65,0Z","circle"]},"legend":{"orient":"none","legendX":24,"legendY":102,"title":null,"labelFontSize":10,"labelLimit":400,"labelOffset":15,"rowPadding":0.5,"symbolSize":30,"symbolStrokeWidth":1.2,"labelExpr":"datum.value=='d'?'Data':'MG5_aMC+PYTHIA8 [MLM] '+(datum.value=='a'?'CUETP8M1':datum.value=='b'?'CP2':datum.value=='c'?'CP3':'CP5')"}}}},
{"transform":[{"filter":"datum.el>0"}],"mark":{"type":"rule","color":"black","strokeWidth":1.2,"clip":true},
"encoding":{"x":{"field":"x","type":"quantitative"},"y":{"field":"el","type":"quantitative","title":"1/σ dσ/dO"},"y2":{"field":"eh"}}},
{"transform":[{"fold":["d"],"as":["s","v"]}],"mark":{"type":"tick","orient":"horizontal","size":5,"thickness":1,"color":"black","clip":true},
"encoding":{"x":{"field":"x","type":"quantitative"},"y":{"field":"v","type":"quantitative","title":"1/σ dσ/dO"}}},
{"transform":[{"fold":["d"],"as":["s","v"]}],"mark":{"type":"point","filled":false,"fill":"black","size":20,"strokeWidth":1,"opacity":1,"clip":true},
"encoding":{"x":{"field":"x","type":"quantitative"},"y":{"field":"v","type":"quantitative","title":"1/σ dσ/dO"},"color":{"field":"s","type":"nominal"},"shape":{"field":"s","type":"nominal"}}}
]},
{"width":285,"height":88,"data":{"name":"obl"},
"layer":[
{"mark":{"type":"area","interpolate":"step","color":"#b3b24b","opacity":1,"clip":true},
"encoding":{"x":{"field":"x","type":"quantitative","scale":{"domain":[0,0.576],"nice":false,"zero":false},"axis":{"values":[0,0.02,0.04,0.06,0.08,0.1,0.12,0.14,0.16,0.18,0.2,0.22,0.24,0.26,0.28,0.3,0.32,0.34,0.36,0.38,0.4,0.42,0.44,0.46,0.48,0.5,0.52,0.54,0.56],"tickCount":200,"labelExpr":"abs(datum.value*10-round(datum.value*10))<0.001?format(datum.value,'.1~f'):''","labelFlush":false,"title":"O","titleFontStyle":"italic","titleFontSize":17,"titleAnchor":"end","titleAlign":"right","titlePadding":0}},
"y":{"field":"lo","type":"quantitative","title":"MC/Data","scale":{"domain":[0.5,1.5],"nice":false,"zero":false},"axis":{"values":[0.5,0.6,0.7,0.8,0.9,1,1.1,1.2,1.3,1.4],"tickCount":200,"format":".1f","titleFontSize":11,"labelFontSize":9,"titlePadding":2}},"y2":{"field":"hi"}}},
{"data":{"values":[{}]},"mark":{"type":"rule","color":"#222","strokeWidth":1},"encoding":{"y":{"datum":1}}},
{"transform":[{"fold":["ra","rb","rc","rf"],"as":["s","v"]}],"mark":{"type":"line","interpolate":"step","strokeWidth":1.2,"clip":true},
"encoding":{"x":{"field":"x","type":"quantitative"},"y":{"field":"v","type":"quantitative","title":"MC/Data"},"color":{"field":"s","type":"nominal","scale":{"domain":["ra","rb","rc","rf"],"range":["#f4503c","#5a7ef0","#35a535","#fca532"]},"legend":null}}},
{"transform":[{"fold":["ra","rb","rc","rf"],"as":["s","v"]}],"mark":{"type":"point","filled":false,"size":26,"strokeWidth":1,"opacity":1,"clip":true},
"encoding":{"x":{"field":"x","type":"quantitative"},"y":{"field":"v","type":"quantitative","title":"MC/Data"},"color":{"field":"s","type":"nominal","legend":null},"shape":{"field":"s","type":"nominal","scale":{"domain":["ra","rb","rc","rf"],"range":["M-1,0L1,0M0,-1L0,1","circle","square","M0,-1L0.65,0L0,1L-0.65,0Z"]},"legend":null}}}
]}
],"spacing":0,"bounds":"flush","resolve":{"scale":{"color":"independent","shape":"independent"}}},
{"vconcat":[
{"width":285,"height":168,"title":{"text":"Sphericity (ECMS = 91.2 GeV)","anchor":"start","frame":"group","fontSize":14.5,"offset":0},"data":{"name":"sph"},
"layer":[
{"transform":[{"fold":["a","b","c","f"],"as":["s","v"]}],"mark":{"type":"line","interpolate":"step","strokeWidth":1.2,"clip":true},
"encoding":{"x":{"field":"x","type":"quantitative","scale":{"domain":[0,0.9],"nice":false,"zero":false},"axis":{"values":[0,0.02,0.04,0.06,0.08,0.1,0.12,0.14,0.16,0.18,0.2,0.22,0.24,0.26,0.28,0.3,0.32,0.34,0.36,0.38,0.4,0.42,0.44,0.46,0.48,0.5,0.52,0.54,0.56,0.58,0.6,0.62,0.64,0.66,0.68,0.7,0.72,0.74,0.76,0.78,0.8,0.82,0.84,0.86,0.88,0.9],"tickCount":200,"labels":false,"title":null}},
"y":{"field":"v","type":"quantitative","title":"1/σ dσ/dS","scale":{"type":"log","domain":[0.00007,35],"nice":false},"axis":{"values":[0.00008,0.00009,0.0001,0.0002,0.0003,0.0004,0.0005,0.0006,0.0007,0.0008,0.0009,0.001,0.002,0.003,0.004,0.005,0.006,0.007,0.008,0.009,0.01,0.02,0.03,0.04,0.05,0.06,0.07,0.08,0.09,0.1,0.2,0.3,0.4,0.5,0.6,0.7,0.8,0.9,1,2,3,4,5,6,7,8,9,10,20,30],"tickCount":200,"labelExpr":"abs(log(datum.value)/LN10-round(log(datum.value)/LN10))>0.01?'':['10⁻⁵','10⁻⁴','10⁻³','10⁻²','10⁻¹','1','10¹'][round(log(datum.value)/LN10)+5]","titleAnchor":"end","titleFontSize":18,"titlePadding":1}},
"color":{"field":"s","type":"nominal","scale":{"domain":["a","b","c","f","d"],"range":["#f4503c","#5a7ef0","#35a535","#fca532","#000000"]},"legend":{"orient":"none","legendX":31,"legendY":102,"title":null,"labelFontSize":10,"labelLimit":400,"labelOffset":14,"rowPadding":0.5,"symbolSize":30,"symbolStrokeWidth":1.2,"labelExpr":"datum.value=='d'?'Data':'MG5_aMC+PYTHIA8 [MLM] '+(datum.value=='a'?'CUETP8M1':datum.value=='b'?'CP2':datum.value=='c'?'CP3':'CP5')"}}}},
{"transform":[{"fold":["a","b","c","f"],"as":["s","v"]}],"mark":{"type":"point","filled":false,"size":26,"strokeWidth":1,"opacity":1,"clip":true},
"encoding":{"x":{"field":"x","type":"quantitative"},"y":{"field":"v","type":"quantitative","title":"1/σ dσ/dS"},
"color":{"field":"s","type":"nominal"},
"shape":{"field":"s","type":"nominal","scale":{"domain":["a","b","c","f","d"],"range":["M-1,0L1,0M0,-1L0,1","circle","square","M0,-1L0.65,0L0,1L-0.65,0Z","circle"]},"legend":{"orient":"none","legendX":31,"legendY":102,"title":null,"labelFontSize":10,"labelLimit":400,"labelOffset":14,"rowPadding":0.5,"symbolSize":30,"symbolStrokeWidth":1.2,"labelExpr":"datum.value=='d'?'Data':'MG5_aMC+PYTHIA8 [MLM] '+(datum.value=='a'?'CUETP8M1':datum.value=='b'?'CP2':datum.value=='c'?'CP3':'CP5')"}}}},
{"transform":[{"filter":"datum.el>0"}],"mark":{"type":"rule","color":"black","strokeWidth":1.2,"clip":true},
"encoding":{"x":{"field":"x","type":"quantitative"},"y":{"field":"el","type":"quantitative","title":"1/σ dσ/dS"},"y2":{"field":"eh"}}},
{"transform":[{"fold":["d"],"as":["s","v"]}],"mark":{"type":"tick","orient":"horizontal","size":6,"thickness":1,"color":"black","clip":true},
"encoding":{"x":{"field":"x","type":"quantitative"},"y":{"field":"v","type":"quantitative","title":"1/σ dσ/dS"}}},
{"transform":[{"fold":["d"],"as":["s","v"]}],"mark":{"type":"point","filled":false,"fill":"black","size":20,"strokeWidth":1,"opacity":1,"clip":true},
"encoding":{"x":{"field":"x","type":"quantitative"},"y":{"field":"v","type":"quantitative","title":"1/σ dσ/dS"},"color":{"field":"s","type":"nominal"},"shape":{"field":"s","type":"nominal"}}}
]},
{"width":285,"height":88,"data":{"name":"sph"},
"layer":[
{"mark":{"type":"area","interpolate":"step","color":"#b3b24b","opacity":1,"clip":true},
"encoding":{"x":{"field":"x","type":"quantitative","scale":{"domain":[0,0.9],"nice":false,"zero":false},"axis":{"values":[0,0.02,0.04,0.06,0.08,0.1,0.12,0.14,0.16,0.18,0.2,0.22,0.24,0.26,0.28,0.3,0.32,0.34,0.36,0.38,0.4,0.42,0.44,0.46,0.48,0.5,0.52,0.54,0.56,0.58,0.6,0.62,0.64,0.66,0.68,0.7,0.72,0.74,0.76,0.78,0.8,0.82,0.84,0.86,0.88,0.9],"tickCount":200,"labelExpr":"abs(datum.value*10-round(datum.value*10))<0.001?format(datum.value,'.1~f'):''","labelFlush":false,"title":"S","titleFontStyle":"italic","titleFontSize":17,"titleAnchor":"end","titleAlign":"right","titlePadding":0}},
"y":{"field":"lo","type":"quantitative","title":"MC/Data","scale":{"domain":[0.5,1.5],"nice":false,"zero":false},"axis":{"values":[0.5,0.6,0.7,0.8,0.9,1,1.1,1.2,1.3,1.4],"tickCount":200,"format":".1f","titleFontSize":11,"labelFontSize":9,"titlePadding":2}},"y2":{"field":"hi"}}},
{"data":{"values":[{}]},"mark":{"type":"rule","color":"#222","strokeWidth":1},"encoding":{"y":{"datum":1}}},
{"transform":[{"fold":["ra","rb","rc","rf"],"as":["s","v"]}],"mark":{"type":"line","interpolate":"step","strokeWidth":1.2,"clip":true},
"encoding":{"x":{"field":"x","type":"quantitative"},"y":{"field":"v","type":"quantitative","title":"MC/Data"},"color":{"field":"s","type":"nominal","scale":{"domain":["ra","rb","rc","rf"],"range":["#f4503c","#5a7ef0","#35a535","#fca532"]},"legend":null}}},
{"transform":[{"fold":["ra","rb","rc","rf"],"as":["s","v"]}],"mark":{"type":"point","filled":false,"size":26,"strokeWidth":1,"opacity":1,"clip":true},
"encoding":{"x":{"field":"x","type":"quantitative"},"y":{"field":"v","type":"quantitative","title":"MC/Data"},"color":{"field":"s","type":"nominal","legend":null},"shape":{"field":"s","type":"nominal","scale":{"domain":["ra","rb","rc","rf"],"range":["M-1,0L1,0M0,-1L0,1","circle","square","M0,-1L0.65,0L0,1L-0.65,0Z"]},"legend":null}}}
]}
],"spacing":0,"bounds":"flush","resolve":{"scale":{"color":"independent","shape":"independent"}}}
],"spacing":24,"resolve":{"scale":{"color":"independent","shape":"independent"}}},
{"hconcat":[
{"vconcat":[
{"width":285,"height":169,"title":{"text":"Thrust major (ECMS = 91.2 GeV)","anchor":"start","frame":"group","fontSize":14.5,"offset":0},"data":{"name":"tmaj"},
"layer":[
{"transform":[{"fold":["a","b","c","f"],"as":["s","v"]}],"mark":{"type":"line","interpolate":"step","strokeWidth":1.2,"clip":true},
"encoding":{"x":{"field":"x","type":"quantitative","scale":{"domain":[0,0.7],"nice":false,"zero":false},"axis":{"values":[0,0.02,0.04,0.06,0.08,0.1,0.12,0.14,0.16,0.18,0.2,0.22,0.24,0.26,0.28,0.3,0.32,0.34,0.36,0.38,0.4,0.42,0.44,0.46,0.48,0.5,0.52,0.54,0.56,0.58,0.6,0.62,0.64,0.66,0.68,0.7],"tickCount":200,"labels":false,"title":null}},
"y":{"field":"v","type":"quantitative","title":"1/σ dσ/dTₘₐⱼₒᵣ","scale":{"type":"log","domain":[0.000032,12],"nice":false},"axis":{"values":[0.00004,0.00005,0.00006,0.00007,0.00008,0.00009,0.0001,0.0002,0.0003,0.0004,0.0005,0.0006,0.0007,0.0008,0.0009,0.001,0.002,0.003,0.004,0.005,0.006,0.007,0.008,0.009,0.01,0.02,0.03,0.04,0.05,0.06,0.07,0.08,0.09,0.1,0.2,0.3,0.4,0.5,0.6,0.7,0.8,0.9,1,2,3,4,5,6,7,8,9,10],"tickCount":200,"labelExpr":"abs(log(datum.value)/LN10-round(log(datum.value)/LN10))>0.01?'':['10⁻⁵','10⁻⁴','10⁻³','10⁻²','10⁻¹','1','10¹'][round(log(datum.value)/LN10)+5]","titleAnchor":"end","titleFontSize":18,"titlePadding":1}},
"color":{"field":"s","type":"nominal","scale":{"domain":["a","b","c","f","d"],"range":["#f4503c","#5a7ef0","#35a535","#fca532","#000000"]},"legend":{"orient":"none","legendX":34,"legendY":96,"title":null,"labelFontSize":10,"labelLimit":400,"labelOffset":14,"rowPadding":0.5,"symbolSize":30,"symbolStrokeWidth":1.2,"labelExpr":"datum.value=='d'?'Data':'MG5_aMC+PYTHIA8 [MLM] '+(datum.value=='a'?'CUETP8M1':datum.value=='b'?'CP2':datum.value=='c'?'CP3':'CP5')"}}}},
{"transform":[{"fold":["a","b","c","f"],"as":["s","v"]}],"mark":{"type":"point","filled":false,"size":26,"strokeWidth":1,"opacity":1,"clip":true},
"encoding":{"x":{"field":"x","type":"quantitative"},"y":{"field":"v","type":"quantitative","title":"1/σ dσ/dTₘₐⱼₒᵣ"},
"color":{"field":"s","type":"nominal"},
"shape":{"field":"s","type":"nominal","scale":{"domain":["a","b","c","f","d"],"range":["M-1,0L1,0M0,-1L0,1","circle","square","M0,-1L0.65,0L0,1L-0.65,0Z","circle"]},"legend":{"orient":"none","legendX":34,"legendY":96,"title":null,"labelFontSize":10,"labelLimit":400,"labelOffset":14,"rowPadding":0.5,"symbolSize":30,"symbolStrokeWidth":1.2,"labelExpr":"datum.value=='d'?'Data':'MG5_aMC+PYTHIA8 [MLM] '+(datum.value=='a'?'CUETP8M1':datum.value=='b'?'CP2':datum.value=='c'?'CP3':'CP5')"}}}},
{"transform":[{"filter":"datum.el>0"}],"mark":{"type":"rule","color":"#444","strokeWidth":1.2,"clip":true},
"encoding":{"x":{"field":"x","type":"quantitative"},"y":{"field":"el","type":"quantitative","title":"1/σ dσ/dTₘₐⱼₒᵣ"},"y2":{"field":"eh"}}},
{"transform":[{"fold":["d"],"as":["s","v"]}],"mark":{"type":"tick","orient":"horizontal","size":8,"thickness":1,"color":"black","clip":true},
"encoding":{"x":{"field":"x","type":"quantitative"},"y":{"field":"v","type":"quantitative","title":"1/σ dσ/dTₘₐⱼₒᵣ"}}},
{"transform":[{"fold":["d"],"as":["s","v"]}],"mark":{"type":"point","filled":false,"fill":"black","size":20,"strokeWidth":1,"opacity":1,"clip":true},
"encoding":{"x":{"field":"x","type":"quantitative"},"y":{"field":"v","type":"quantitative","title":"1/σ dσ/dTₘₐⱼₒᵣ"},"color":{"field":"s","type":"nominal"},"shape":{"field":"s","type":"nominal"}}}
]},
{"width":285,"height":86,"data":{"name":"tmaj"},
"layer":[
{"mark":{"type":"area","interpolate":"step","color":"#b3b24b","opacity":1,"clip":true},
"encoding":{"x":{"field":"x","type":"quantitative","scale":{"domain":[0,0.7],"nice":false,"zero":false},"axis":{"values":[0,0.02,0.04,0.06,0.08,0.1,0.12,0.14,0.16,0.18,0.2,0.22,0.24,0.26,0.28,0.3,0.32,0.34,0.36,0.38,0.4,0.42,0.44,0.46,0.48,0.5,0.52,0.54,0.56,0.58,0.6,0.62,0.64,0.66,0.68,0.7],"tickCount":200,"labelExpr":"abs(datum.value*10-round(datum.value*10))<0.001?format(datum.value,'.1~f'):''","labelFlush":false,"title":"Tₘₐⱼₒᵣ","titleFontStyle":"italic","titleFontSize":17,"titleAnchor":"end","titleAlign":"right","titlePadding":0}},
"y":{"field":"lo","type":"quantitative","title":"MC/Data","scale":{"domain":[0.5,1.5],"nice":false,"zero":false},"axis":{"values":[0.5,0.6,0.7,0.8,0.9,1,1.1,1.2,1.3,1.4],"tickCount":200,"format":".1f","titleFontSize":11,"labelFontSize":9,"titlePadding":2}},"y2":{"field":"hi"}}},
{"data":{"values":[{}]},"mark":{"type":"rule","color":"#222","strokeWidth":1},"encoding":{"y":{"datum":1}}},
{"transform":[{"fold":["ra","rb","rc","rf"],"as":["s","v"]}],"mark":{"type":"line","interpolate":"step","strokeWidth":1.2,"clip":true},
"encoding":{"x":{"field":"x","type":"quantitative"},"y":{"field":"v","type":"quantitative","title":"MC/Data"},"color":{"field":"s","type":"nominal","scale":{"domain":["ra","rb","rc","rf"],"range":["#f4503c","#5a7ef0","#35a535","#fca532"]},"legend":null}}},
{"transform":[{"fold":["ra","rb","rc","rf"],"as":["s","v"]}],"mark":{"type":"point","filled":false,"size":26,"strokeWidth":1,"opacity":1,"clip":true},
"encoding":{"x":{"field":"x","type":"quantitative"},"y":{"field":"v","type":"quantitative","title":"MC/Data"},"color":{"field":"s","type":"nominal","legend":null},"shape":{"field":"s","type":"nominal","scale":{"domain":["ra","rb","rc","rf"],"range":["M-1,0L1,0M0,-1L0,1","circle","square","M0,-1L0.65,0L0,1L-0.65,0Z"]},"legend":null}}}
]}
],"spacing":0,"bounds":"flush","resolve":{"scale":{"color":"independent","shape":"independent"}}},
{"vconcat":[
{"width":285,"height":169,"title":{"text":"Thrust (ECMS = 91.2 GeV)","anchor":"start","frame":"group","fontSize":14.5,"offset":0},"data":{"name":"thr"},
"layer":[
{"transform":[{"fold":["a","b","c","f"],"as":["s","v"]}],"mark":{"type":"line","interpolate":"step","strokeWidth":1.2,"clip":true},
"encoding":{"x":{"field":"x","type":"quantitative","scale":{"domain":[0.579,0.996],"nice":false,"zero":false},"axis":{"values":[0.58,0.59,0.6,0.61,0.62,0.63,0.64,0.65,0.66,0.67,0.68,0.69,0.7,0.71,0.72,0.73,0.74,0.75,0.76,0.77,0.78,0.79,0.8,0.81,0.82,0.83,0.84,0.85,0.86,0.87,0.88,0.89,0.9,0.91,0.92,0.93,0.94,0.95,0.96,0.97,0.98,0.99],"tickCount":200,"labels":false,"title":null}},
"y":{"field":"v","type":"quantitative","title":"1/σ dσ/dT","scale":{"type":"log","domain":[0.00028,31],"nice":false},"axis":{"values":[0.0003,0.0004,0.0005,0.0006,0.0007,0.0008,0.0009,0.001,0.002,0.003,0.004,0.005,0.006,0.007,0.008,0.009,0.01,0.02,0.03,0.04,0.05,0.06,0.07,0.08,0.09,0.1,0.2,0.3,0.4,0.5,0.6,0.7,0.8,0.9,1,2,3,4,5,6,7,8,9,10,20,30],"tickCount":200,"labelExpr":"abs(log(datum.value)/LN10-round(log(datum.value)/LN10))>0.01?'':['10⁻⁵','10⁻⁴','10⁻³','10⁻²','10⁻¹','1','10¹'][round(log(datum.value)/LN10)+5]","titleAnchor":"end","titleFontSize":18,"titlePadding":1}},
"color":{"field":"s","type":"nominal","scale":{"domain":["a","b","c","f","d"],"range":["#f4503c","#5a7ef0","#35a535","#fca532","#000000"]},"legend":{"orient":"none","legendX":74,"legendY":99,"title":null,"labelFontSize":10,"labelLimit":400,"labelOffset":10,"rowPadding":0.5,"symbolSize":30,"symbolStrokeWidth":1.2,"labelExpr":"datum.value=='d'?'Data':'MG5_aMC+PYTHIA8 [MLM] '+(datum.value=='a'?'CUETP8M1':datum.value=='b'?'CP2':datum.value=='c'?'CP3':'CP5')"}}}},
{"transform":[{"fold":["a","b","c","f"],"as":["s","v"]}],"mark":{"type":"point","filled":false,"size":26,"strokeWidth":1,"opacity":1,"clip":true},
"encoding":{"x":{"field":"x","type":"quantitative"},"y":{"field":"v","type":"quantitative","title":"1/σ dσ/dT"},
"color":{"field":"s","type":"nominal"},
"shape":{"field":"s","type":"nominal","scale":{"domain":["a","b","c","f","d"],"range":["M-1,0L1,0M0,-1L0,1","circle","square","M0,-1L0.65,0L0,1L-0.65,0Z","circle"]},"legend":{"orient":"none","legendX":74,"legendY":99,"title":null,"labelFontSize":10,"labelLimit":400,"labelOffset":10,"rowPadding":0.5,"symbolSize":30,"symbolStrokeWidth":1.2,"labelExpr":"datum.value=='d'?'Data':'MG5_aMC+PYTHIA8 [MLM] '+(datum.value=='a'?'CUETP8M1':datum.value=='b'?'CP2':datum.value=='c'?'CP3':'CP5')"}}}},
{"transform":[{"filter":"datum.el>0"}],"mark":{"type":"rule","color":"black","strokeWidth":1.2,"clip":true},
"encoding":{"x":{"field":"x","type":"quantitative"},"y":{"field":"el","type":"quantitative","title":"1/σ dσ/dT"},"y2":{"field":"eh"}}},
{"transform":[{"fold":["d"],"as":["s","v"]}],"mark":{"type":"tick","orient":"horizontal","size":7,"thickness":1,"color":"black","clip":true},
"encoding":{"x":{"field":"x","type":"quantitative"},"y":{"field":"v","type":"quantitative","title":"1/σ dσ/dT"}}},
{"transform":[{"fold":["d"],"as":["s","v"]}],"mark":{"type":"point","filled":false,"fill":"black","size":20,"strokeWidth":1,"opacity":1,"clip":true},
"encoding":{"x":{"field":"x","type":"quantitative"},"y":{"field":"v","type":"quantitative","title":"1/σ dσ/dT"},"color":{"field":"s","type":"nominal"},"shape":{"field":"s","type":"nominal"}}}
]},
{"width":285,"height":86,"data":{"name":"thr"},
"layer":[
{"mark":{"type":"area","interpolate":"step","color":"#b3b24b","opacity":1,"clip":true},
"encoding":{"x":{"field":"x","type":"quantitative","scale":{"domain":[0.579,0.996],"nice":false,"zero":false},"axis":{"values":[0.58,0.59,0.6,0.61,0.62,0.63,0.64,0.65,0.66,0.67,0.68,0.69,0.7,0.71,0.72,0.73,0.74,0.75,0.76,0.77,0.78,0.79,0.8,0.81,0.82,0.83,0.84,0.85,0.86,0.87,0.88,0.89,0.9,0.91,0.92,0.93,0.94,0.95,0.96,0.97,0.98,0.99],"tickCount":200,"labelExpr":"abs(datum.value*20-round(datum.value*20))<0.001?format(datum.value,'.2~f'):''","labelFlush":false,"title":"T","titleFontStyle":"italic","titleFontSize":17,"titleAnchor":"end","titleAlign":"right","titlePadding":0}},
"y":{"field":"lo","type":"quantitative","title":"MC/Data","scale":{"domain":[0.5,1.5],"nice":false,"zero":false},"axis":{"values":[0.5,0.6,0.7,0.8,0.9,1,1.1,1.2,1.3,1.4],"tickCount":200,"format":".1f","titleFontSize":11,"labelFontSize":9,"titlePadding":2}},"y2":{"field":"hi"}}},
{"data":{"values":[{}]},"mark":{"type":"rule","color":"#222","strokeWidth":1},"encoding":{"y":{"datum":1}}},
{"transform":[{"fold":["ra","rb","rc","rf"],"as":["s","v"]}],"mark":{"type":"line","interpolate":"step","strokeWidth":1.2,"clip":true},
"encoding":{"x":{"field":"x","type":"quantitative"},"y":{"field":"v","type":"quantitative","title":"MC/Data"},"color":{"field":"s","type":"nominal","scale":{"domain":["ra","rb","rc","rf"],"range":["#f4503c","#5a7ef0","#35a535","#fca532"]},"legend":null}}},
{"transform":[{"fold":["ra","rb","rc","rf"],"as":["s","v"]}],"mark":{"type":"point","filled":false,"size":26,"strokeWidth":1,"opacity":1,"clip":true},
"encoding":{"x":{"field":"x","type":"quantitative"},"y":{"field":"v","type":"quantitative","title":"MC/Data"},"color":{"field":"s","type":"nominal","legend":null},"shape":{"field":"s","type":"nominal","scale":{"domain":["ra","rb","rc","rf"],"range":["M-1,0L1,0M0,-1L0,1","circle","square","M0,-1L0.65,0L0,1L-0.65,0Z"]},"legend":null}}}
]}
],"spacing":0,"bounds":"flush","resolve":{"scale":{"color":"independent","shape":"independent"}}}
],"spacing":24,"resolve":{"scale":{"color":"independent","shape":"independent"}}}
],
"spacing":15,
"resolve":{"scale":{"color":"independent","shape":"independent"}},
"config":{
"font":"Liberation Serif",
"view":{"stroke":"#222","strokeWidth":1},
"axis":{"grid":false,"domain":false,"labelFont":"Liberation Serif","titleFont":"Liberation Serif","titleFontWeight":"normal","labelColor":"#111","titleColor":"#111","tickColor":"#222","labelFontSize":10,"tickSize":-4,"labelPadding":6,"labelOverlap":false},
"legend":{"labelFont":"Liberation Serif","labelColor":"#111"},
"title":{"font":"Liberation Serif","fontWeight":"normal","color":"#111"}
}
}
